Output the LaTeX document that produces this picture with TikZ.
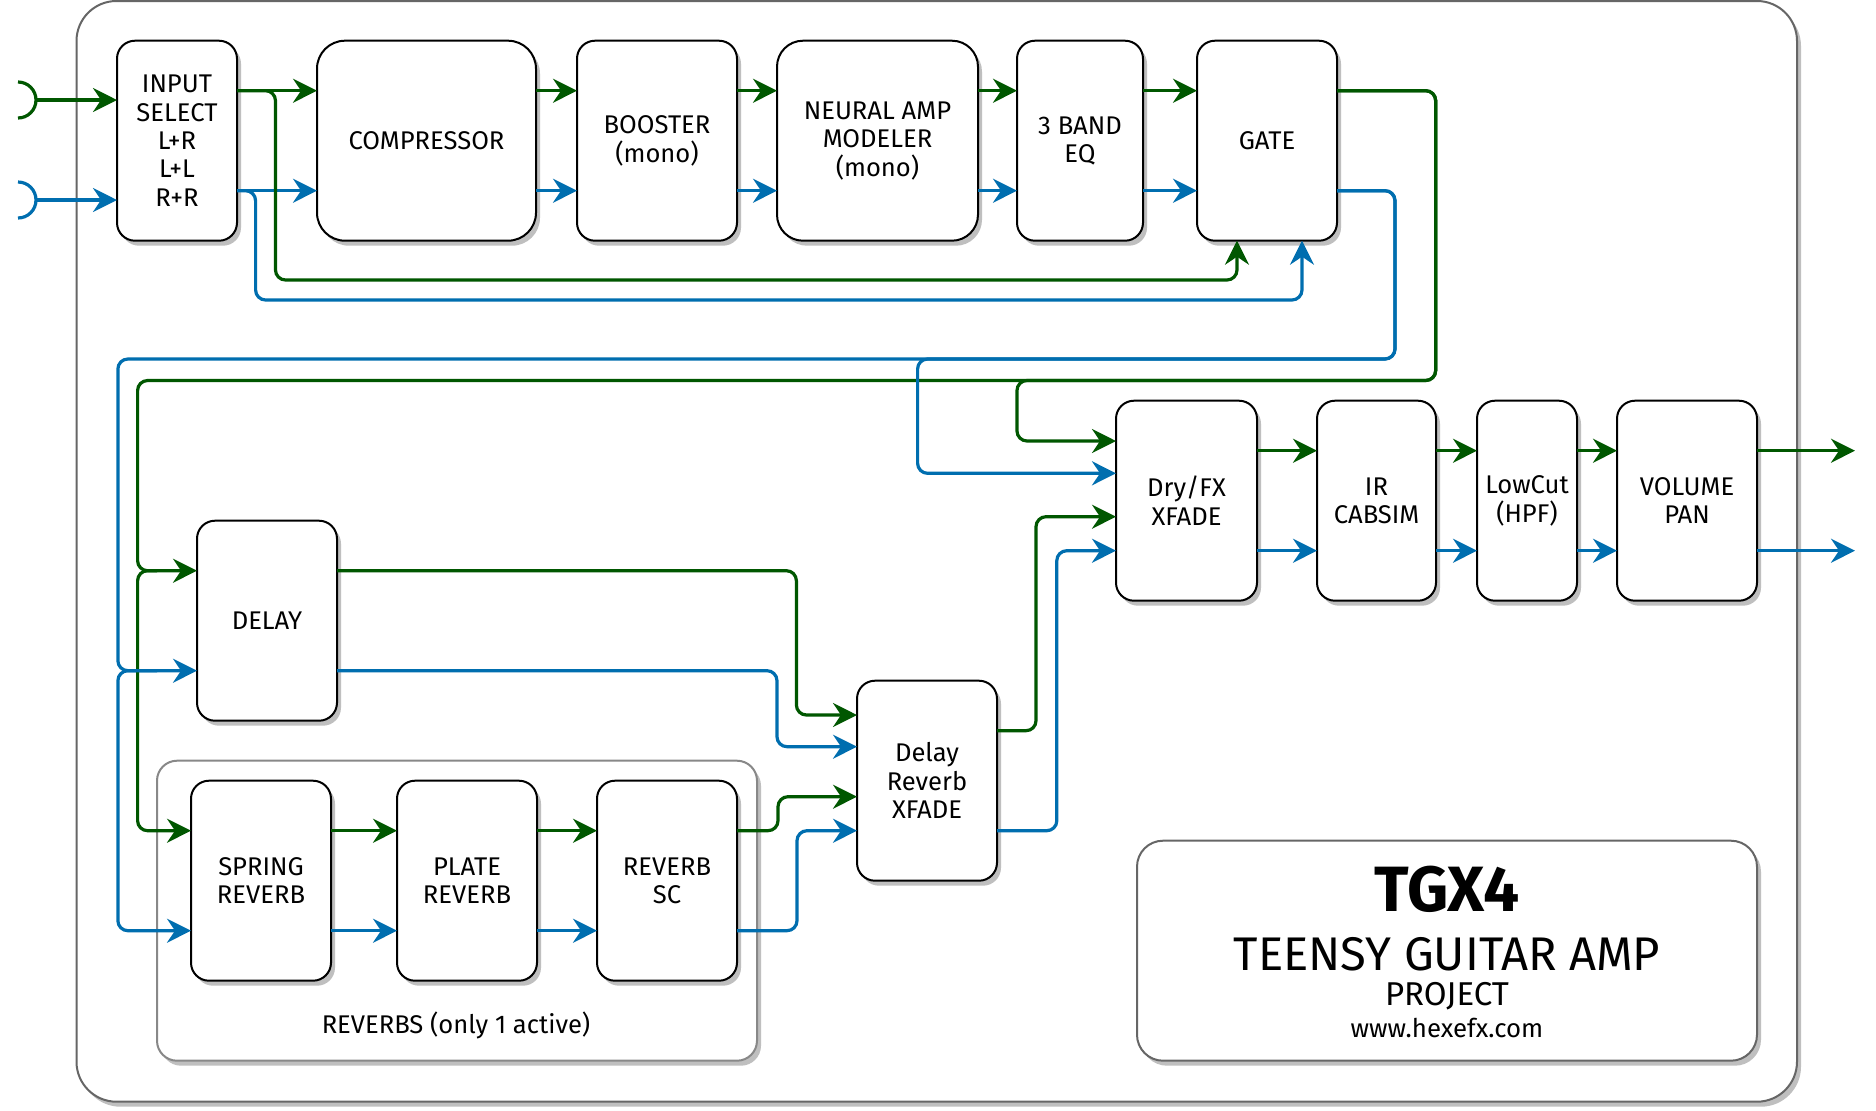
\documentclass[tikz,border=0pt]{standalone}
\usepackage{fontspec}
\setmainfont{Fira Sans}
\usetikzlibrary{arrows.meta, positioning, shadows}

\definecolor{wiregreen}{HTML}{005700}
\definecolor{wireblue}{HTML}{006EAF}
\definecolor{framegray}{HTML}{666666}
\definecolor{panelgray}{HTML}{888888}

\begin{document}
\begin{tikzpicture}[
    x=0.5pt, y=-0.5pt,
    font=\fontsize{12.8}{14.2}\selectfont,
    box/.style={draw, line width=1pt, rounded corners=9pt, minimum height=100pt, align=center, fill=white, inner sep=1pt, outer sep=0pt, drop shadow={shadow xshift=2pt, shadow yshift=-2.5pt, fill=black!25, opacity=1}},
    panel/.style={draw=panelgray, line width=1pt, rounded corners=10pt, fill=white, drop shadow={shadow xshift=2pt, shadow yshift=-2.5pt, fill=black!25, opacity=1}},
    board/.style={draw=framegray, line width=1pt, rounded corners=20pt, fill=white, drop shadow={shadow xshift=2pt, shadow yshift=-2.5pt, fill=black!25, opacity=1}},
    wire/.style={line width=1.6pt, rounded corners=5pt, -{Stealth[length=12pt, width=12pt, inset=4pt]}},
    gw/.style={wire, draw=wiregreen},
    bw/.style={wire, draw=wireblue},
    jack/.style={line width=1.6pt}
]
    \useasboundingbox (0,0) rectangle (1876,1110);

    % Frames
    \node[board, minimum width=860.25pt, minimum height=550.35pt] (board) at (936.75,551.35) {};
    \node[panel, minimum width=300pt, minimum height=150pt] (reverbs) at (457,910.7) {};
    \node[anchor=base] (revlbl) at (456,1033) {REVERBS (only 1 active)};
    \node[board, rounded corners=13pt, minimum width=310pt, minimum height=110pt] (title) at (1447,950.7) {};

    % Input chain
    \node[box, minimum width=60pt] (insel) at (177,140.7) {INPUT\\SELECT\\L+R\\L+L\\R+R};
    \node[box, minimum width=109.5pt, rounded corners=14pt, right=40pt of insel] (comp) {COMPRESSOR};
    \node[box, minimum width=80pt, right=20.5pt of comp] (boost) {BOOSTER\\(mono)};
    \node[box, minimum width=100.5pt, rounded corners=13pt, right=20pt of boost] (nam) {NEURAL AMP\\MODELER\\(mono)};
    \node[box, minimum width=63pt, right=19.5pt of nam] (eq) {3 BAND\\EQ};
    \node[box, minimum width=70pt, right=27pt of eq] (gate) {GATE};

    % Output chain
    \node[box, minimum width=70.5pt] (dryfx) at (1186.5,500.7) {Dry/FX\\XFADE};
    \node[box, minimum width=59.5pt, right=30pt of dryfx] (ir) {IR\\CABSIM};
    \node[box, minimum width=50pt, right=20.5pt of ir] (lowcut) {LowCut\\(HPF)};
    \node[box, minimum width=70pt, right=20pt of lowcut] (vol) {VOLUME\\PAN};

    % Effects
    \node[box, minimum width=70pt] (delay) at (267,620.7) {DELAY};
    \node[box, minimum width=70pt] (drx) at (927,780.7) {Delay\\Reverb\\XFADE};
    \node[box, minimum width=70pt] (spring) at (261,880.7) {SPRING\\REVERB};
    \node[box, minimum width=70pt, right=33pt of spring] (plate) {PLATE\\REVERB};
    \node[box, minimum width=70pt, right=30pt of plate] (rsc) {REVERB\\SC};

    % Title
    \node[anchor=base, font=\fontsize{32}{34}\selectfont\bfseries] (tgx) at (1447,911.5) {TGX4};
    \node[anchor=base, font=\fontsize{23.6}{26}\selectfont] (tname) at (1447,970) {TEENSY GUITAR AMP};
    \node[anchor=base, font=\fontsize{16.5}{18}\selectfont] (tproj) at (1447,1005) {PROJECT};
    \node[anchor=base, font=\fontsize{12.9}{14}\selectfont] (tweb) at (1447,1037) {www.hexefx.com};

    % Input jacks
    \draw[jack, wiregreen] (18,82) arc[start angle=90, end angle=0, radius=9pt] coordinate (jackL) arc[start angle=0, end angle=-90, radius=9pt];
    \draw[jack, wireblue] (18,182) arc[start angle=90, end angle=0, radius=9pt] coordinate (jackR) arc[start angle=0, end angle=-90, radius=9pt];
    \draw[gw] (jackL) -- (jackL -| insel.west);
    \draw[bw] (jackR) -- (jackR -| insel.west);

    % Input chain links
    \draw[gw] ([yshift=25pt]insel.east) -- ([yshift=25pt]comp.west);
    \draw[bw] ([yshift=-25pt]insel.east) -- ([yshift=-25pt]comp.west);
    \draw[gw] ([yshift=25pt]comp.east) -- ([yshift=25pt]boost.west);
    \draw[bw] ([yshift=-25pt]comp.east) -- ([yshift=-25pt]boost.west);
    \draw[gw] ([yshift=25pt]boost.east) -- ([yshift=25pt]nam.west);
    \draw[bw] ([yshift=-25pt]boost.east) -- ([yshift=-25pt]nam.west);
    \draw[gw] ([yshift=25pt]nam.east) -- ([yshift=25pt]eq.west);
    \draw[bw] ([yshift=-25pt]nam.east) -- ([yshift=-25pt]eq.west);
    \draw[gw] ([yshift=25pt]eq.east) -- ([yshift=25pt]gate.west);
    \draw[bw] ([yshift=-25pt]eq.east) -- ([yshift=-25pt]gate.west);

    % Gate side chain
    \draw[gw] ([yshift=25pt]insel.east) -| (275.5,280) -| ([xshift=-15pt]gate.south);
    \draw[bw] ([yshift=-25pt]insel.east) -| (255.6,300) -| ([xshift=17.5pt]gate.south);

    % Gate to FX section
    \draw[gw] ([yshift=25pt]gate.east) -| (1435.7,380.5) -- (1017,380.5) |- ([yshift=29.85pt]dryfx.west);
    \draw[gw] ([yshift=25pt]gate.east) -| (1435.7,380.5) -- (137.6,380.5) |- ([yshift=25pt]delay.west);
    \draw[bw] ([yshift=-25pt]gate.east) -| (1395,359) -- (917.6,359) |- ([yshift=13.7pt]dryfx.west);
    \draw[bw] ([yshift=-25pt]gate.east) -| (1395,359) -- (117.9,359) |- ([yshift=-25pt]delay.west);

    % Split to reverbs
    \draw[gw] ([xshift=-20pt,yshift=25pt]delay.west) -| (137.6,700) |- ([yshift=25pt]spring.west);
    \draw[bw] ([xshift=-20pt,yshift=-25pt]delay.west) -| (117.9,800) |- ([yshift=-25pt]spring.west);

    % Reverb chain
    \draw[gw] ([yshift=25pt]spring.east) -- ([yshift=25pt]plate.west);
    \draw[bw] ([yshift=-25pt]spring.east) -- ([yshift=-25pt]plate.west);
    \draw[gw] ([yshift=25pt]plate.east) -- ([yshift=25pt]rsc.west);
    \draw[bw] ([yshift=-25pt]plate.east) -- ([yshift=-25pt]rsc.west);

    % Delay / reverb crossfade
    \draw[gw] ([yshift=25pt]delay.east) -| ([xshift=-30.3pt,yshift=32.85pt]drx.west) -- ([yshift=32.85pt]drx.west);
    \draw[bw] ([yshift=-25pt]delay.east) -| ([xshift=-40pt,yshift=17pt]drx.west) -- ([yshift=17pt]drx.west);
    \draw[gw] ([yshift=25pt]rsc.east) -| ([xshift=-39.5pt,yshift=-8pt]drx.west) -- ([yshift=-8pt]drx.west);
    \draw[bw] ([yshift=-25pt]rsc.east) -| ([xshift=-30pt,yshift=-25pt]drx.west) -- ([yshift=-25pt]drx.west);

    % Crossfade to dry/fx
    \draw[gw] ([yshift=25pt]drx.east) -| ([xshift=-40pt,yshift=-8pt]dryfx.west) -- ([yshift=-8pt]dryfx.west);
    \draw[bw] ([yshift=-25pt]drx.east) -| ([xshift=-29.6pt,yshift=-25pt]dryfx.west) -- ([yshift=-25pt]dryfx.west);

    % Output chain links
    \draw[gw] ([yshift=25pt]dryfx.east) -- ([yshift=25pt]ir.west);
    \draw[bw] ([yshift=-25pt]dryfx.east) -- ([yshift=-25pt]ir.west);
    \draw[gw] ([yshift=25pt]ir.east) -- ([yshift=25pt]lowcut.west);
    \draw[bw] ([yshift=-25pt]ir.east) -- ([yshift=-25pt]lowcut.west);
    \draw[gw] ([yshift=25pt]lowcut.east) -- ([yshift=25pt]vol.west);
    \draw[bw] ([yshift=-25pt]lowcut.east) -- ([yshift=-25pt]vol.west);

    % Outputs
    \draw[gw] ([yshift=25pt]vol.east) -- ++(49pt,0) coordinate (outL);
    \draw[bw] ([yshift=-25pt]vol.east) -- ++(49pt,0) coordinate (outR);

\end{tikzpicture}
\end{document}
